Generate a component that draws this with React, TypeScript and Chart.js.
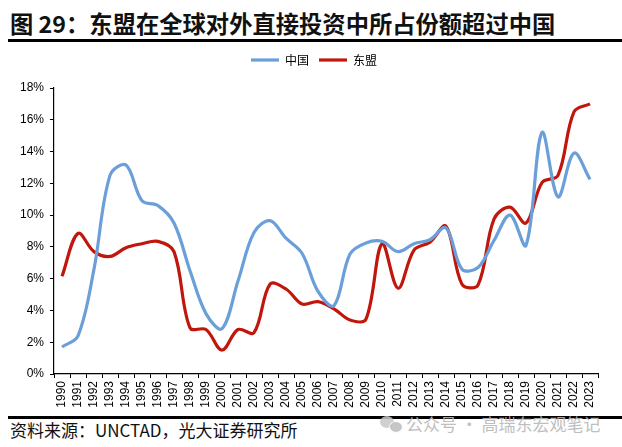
import React, { useEffect, useRef } from "react";
import { Chart, registerables } from "chart.js";

Chart.register(...registerables);

const years: string[] = [
  "1990","1991","1992","1993","1994","1995","1996","1997","1998","1999",
  "2000","2001","2002","2003","2004","2005","2006","2007","2008","2009",
  "2010","2011","2012","2013","2014","2015","2016","2017","2018","2019",
  "2020","2021","2022","2023",
];

const chinaShare: number[] = [
  1.7, 2.4, 6.6, 12.5, 13.15, 10.9, 10.6, 9.5, 6.5, 3.8,
  2.85, 5.85, 8.9, 9.65, 8.55, 7.6, 5.2, 4.3, 7.55, 8.25,
  8.35, 7.7, 8.2, 8.45, 9.2, 6.6, 6.7, 8.4, 10.0, 8.1,
  15.2, 11.15, 13.9, 12.25,
];

const aseanShare: number[] = [
  6.15, 8.85, 7.7, 7.4, 7.95, 8.2, 8.35, 7.7, 2.9, 2.8,
  1.5, 2.8, 2.6, 5.65, 5.35, 4.4, 4.55, 4.1, 3.4, 3.45,
  8.2, 5.4, 7.8, 8.3, 9.3, 5.65, 5.6, 9.75, 10.5, 9.5,
  12.05, 12.5, 16.5, 17.0,
];

const seriesNames: string[] = ["中国", "东盟"];
const yTicks = { min: 0, max: 18, step: 2 };

const titleText = "图 29：东盟在全球对外直接投资中所占份额超过中国";
const sourceText = "资料来源：UNCTAD，光大证券研究所";
const watermarkText = "公众号 · 高瑞东宏观笔记";

const BLUE = "#6A9FD9";
const RED = "#C0160C";

const legendTweak = {
  id: "legendTweak",
  beforeLayout(chart: any) {
    const lg = chart.legend;
    if (lg && !lg.__patched) {
      const orig = lg.fit.bind(lg);
      lg.fit = function () {
        orig();
        this.height += 12;
      };
      lg.__patched = true;
    }
  },
  afterLayout(chart: any) {
    const lg = chart.legend;
    if (lg) {
      lg.left += 15;
      lg.right += 15;
    }
  },
};

export default function App() {
  const canvasRef = useRef<HTMLCanvasElement | null>(null);

  useEffect(() => {
    if (!canvasRef.current) return;
    Chart.defaults.font.family = '"Liberation Sans", Arial, "Noto Sans CJK SC", sans-serif';
    Chart.defaults.color = "#000";
    const chart = new Chart(canvasRef.current, {
      type: "line",
      data: {
        labels: years,
        datasets: [
          {
            label: seriesNames[0],
            data: chinaShare,
            borderColor: BLUE,
            backgroundColor: BLUE,
            borderWidth: 3.2,
            pointRadius: 0,
            tension: 0.35,
            fill: false,
          },
          {
            label: seriesNames[1],
            data: aseanShare,
            borderColor: RED,
            backgroundColor: RED,
            borderWidth: 3.2,
            pointRadius: 0,
            tension: 0.35,
            fill: false,
          },
        ],
      },
      plugins: [legendTweak],
      options: {
        animation: false,
        responsive: true,
        maintainAspectRatio: false,
        layout: { padding: { left: 0, right: 24, top: 0, bottom: 0 } },
        plugins: {
          legend: {
            display: true,
            position: "top",
            labels: {
              usePointStyle: true,
              pointStyle: "line",
              pointStyleWidth: 28,
              boxHeight: 12,
              padding: 10,
              color: "#000",
              font: { size: 12, family: '"Noto Sans CJK SC", sans-serif' },
            },
          },
          tooltip: { enabled: false },
        },
        scales: {
          x: {
            type: "category",
            offset: true,
            grid: {
              display: true,
              offset: true,
              drawOnChartArea: false,
              drawTicks: true,
              tickLength: 4,
              color: "#000",
              lineWidth: 1,
            },
            border: { display: true, color: "#000", width: 1.2 },
            ticks: {
              autoSkip: false,
              maxRotation: 90,
              minRotation: 90,
              padding: 3,
              color: "#000",
              font: { size: 12 },
            },
            afterFit: (scale: any) => {
              scale.height = 36;
            },
          },
          y: {
            min: yTicks.min,
            max: yTicks.max,
            grid: {
              display: true,
              drawOnChartArea: false,
              drawTicks: true,
              tickLength: 4,
              color: "#000",
              lineWidth: 1,
            },
            border: { display: true, color: "#000", width: 1.2 },
            ticks: {
              stepSize: yTicks.step,
              padding: 6,
              color: "#000",
              font: { size: 12 },
              callback: (v: any) => `${v}%`,
            },
            afterFit: (scale: any) => {
              scale.width = 54;
            },
          },
        },
      },
    });
    return () => chart.destroy();
  }, []);

  return (
    <div
      style={{
        position: "fixed",
        left: 0,
        top: 0,
        width: 622,
        height: 447,
        background: "#fff",
        overflow: "hidden",
      }}
    >
      <div
        style={{
          position: "absolute",
          left: 10,
          top: 8,
          fontFamily: '"Noto Sans CJK SC", sans-serif',
          fontWeight: 700,
          fontSize: 23.3,
          lineHeight: "30px",
          whiteSpace: "nowrap",
          color: "#111",
        }}
      >
        {titleText}
      </div>
      <div
        style={{
          position: "absolute",
          left: 8,
          top: 39,
          width: 614,
          height: 3,
          background: "#000",
        }}
      />
      <div
        style={{
          position: "absolute",
          left: 0,
          top: 44,
          width: 622,
          height: 366,
        }}
      >
        <canvas ref={canvasRef} />
      </div>
      <div
        style={{
          position: "absolute",
          left: 8,
          top: 416,
          width: 614,
          height: 3,
          background: "#000",
        }}
      />
      <div
        style={{
          position: "absolute",
          left: 10,
          top: 418,
          fontFamily: '"Noto Sans CJK SC", sans-serif',
          fontSize: 17,
          lineHeight: "24px",
          whiteSpace: "nowrap",
          color: "#111",
        }}
      >
        {sourceText}
      </div>
      <div
        style={{
          position: "absolute",
          left: 380,
          top: 416,
          width: 14,
          height: 12,
          borderRadius: "50%",
          background: "#c8c8c8",
          opacity: 0.85,
        }}
      />
      <div
        style={{
          position: "absolute",
          left: 389,
          top: 421,
          width: 12,
          height: 10,
          borderRadius: "50%",
          background: "#bdbdbd",
          border: "1px solid #fff",
          opacity: 0.85,
        }}
      />
      <div
        style={{
          position: "absolute",
          left: 406,
          top: 412,
          fontFamily: '"Noto Sans CJK SC", sans-serif',
          fontSize: 17,
          lineHeight: "24px",
          whiteSpace: "nowrap",
          color: "#b9b9b9",
          opacity: 0.9,
        }}
      >
        {watermarkText}
      </div>
    </div>
  );
}
